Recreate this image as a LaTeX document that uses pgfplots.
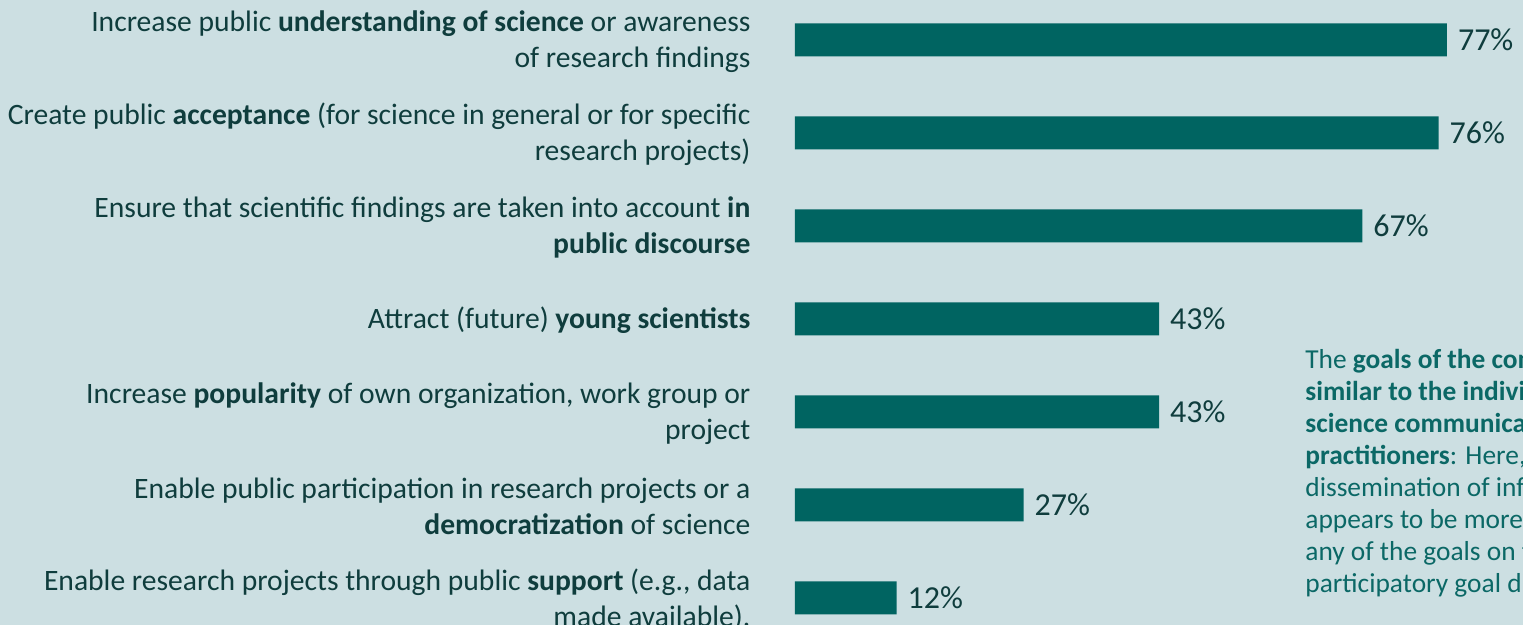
\documentclass[border=0pt]{standalone}
\usepackage{fontspec}
\setmainfont{Carlito}
\usepackage{pgfplots}
\pgfplotsset{compat=1.18}
\usetikzlibrary{calc,backgrounds}

\definecolor{bgc}{HTML}{CCDFE2}
\definecolor{barc}{HTML}{006461}
\definecolor{txtc}{HTML}{0F3D3D}
\definecolor{notec}{HTML}{0B6866}

\begin{document}
\begin{tikzpicture}[x=0.5pt,y=0.5pt]
\begin{axis}[
  xbar,
  scale only axis,
  width=326pt, height=279pt,
  xmin=0, xmax=77,
  ymin=0, ymax=6,
  y dir=reverse,
  enlargelimits=false,
  clip=false,
  axis line style={draw=none},
  tick style={draw=none},
  xtick=\empty,
  ytick={0,...,6},
  yticklabels={
    {Increase public \textbf{understanding of science} or awareness\\of research findings},
    {Create public \textbf{acceptance} (for science in general or for specific\\research projects)},
    {Ensure that scientific findings are taken into account \textbf{in}\\\textbf{public discourse}},
    {Attract (future) \textbf{young scientists}},
    {Increase \textbf{popularity} of own organization, work group or\\project},
    {Enable public participation in research projects or a\\\textbf{democratization} of science},
    {Enable research projects through public \textbf{support} (e.g., data\\made available).}},
  yticklabel style={align=right, font=\fontsize{14.8pt}{18pt}\selectfont,
    text=txtc, xshift=-14.5pt, yshift=-0.8pt, anchor=east},
  bar width=16.5pt,
  nodes near coords={\pgfmathprintnumber[assume math mode=true]{\pgfplotspointmeta}\%},
  every node near coord/.append style={font=\fontsize{16pt}{18pt}\selectfont,
    text=txtc, anchor=west, xshift=2pt},
]
\addplot[fill=barc, draw=none] coordinates
  {(77,0) (76,1) (67,2) (43,3) (43,4) (27,5) (12,6)};
\coordinate (o) at (axis cs:0,6);
\end{axis}
\node[anchor=north west, align=left, text=notec, inner sep=0pt,
  font=\fontsize{13.7pt}{16pt}\selectfont] at ($(o)+(510,249)$)
  {The \textbf{goals of the communication are}\\
   \textbf{similar to the individual goals of}\\
   \textbf{science communication}\\
   \textbf{practitioners}: Here, too, the\\
   dissemination of information\\
   appears to be more important than\\
   any of the goals on the\\
   participatory goal dimension.};
\begin{scope}[on background layer]
\fill[bgc] ($(o)+(-795,-27)$) rectangle ++(1523,625);
\end{scope}
\pgfresetboundingbox
\useasboundingbox ($(o)+(-795,-27)$) rectangle ++(1523,625);
\end{tikzpicture}
\end{document}
